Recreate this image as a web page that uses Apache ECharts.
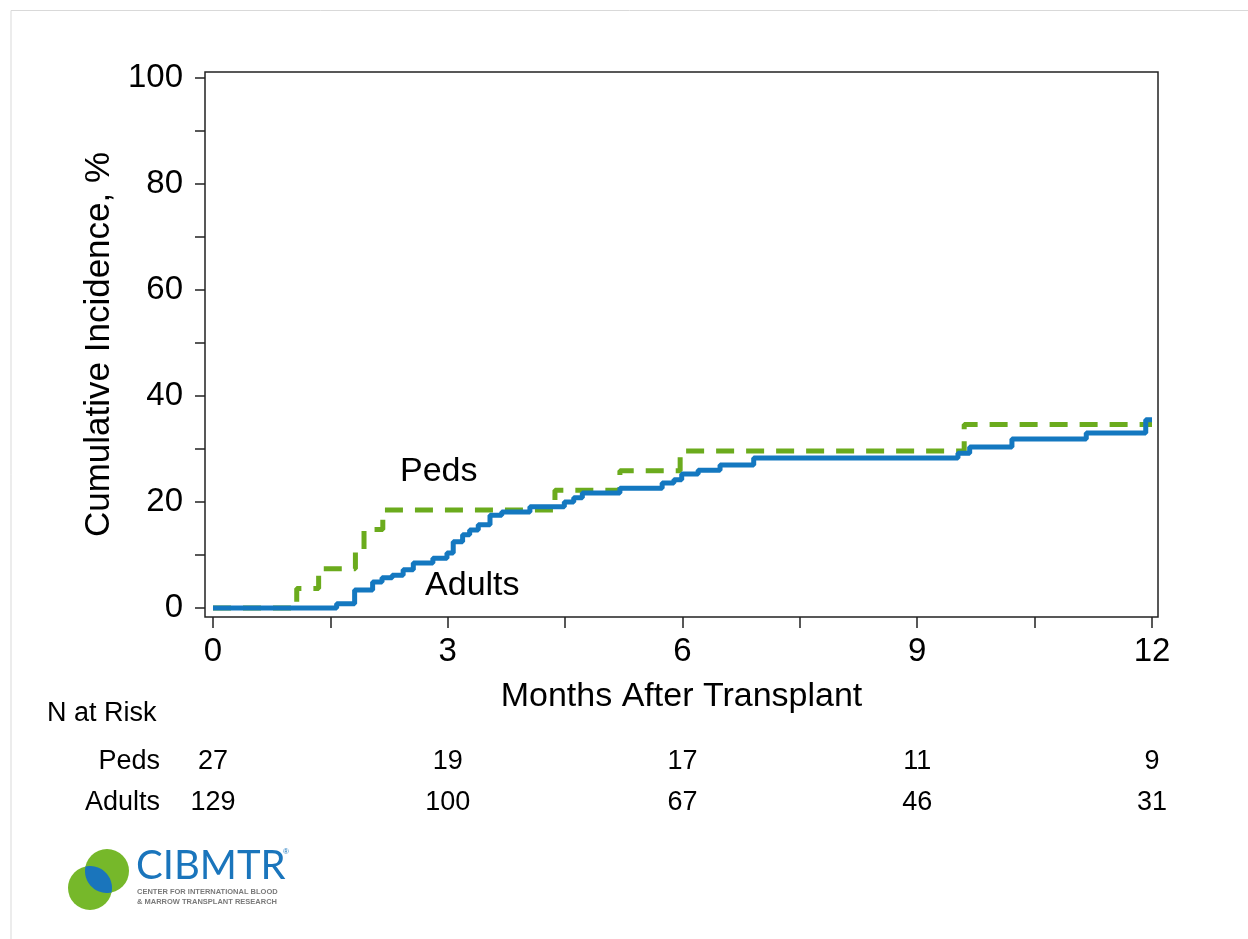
<!DOCTYPE html>
<html><head><meta charset="utf-8">
<script src="https://cdn.jsdelivr.net/npm/echarts@6/dist/echarts.min.js"></script>
<style>html,body{margin:0;padding:0;background:#fff;} #c{width:1248px;height:939px;}</style>
</head><body><div id="c"></div>
<script>
// ---- data ----
const xTicks = [0, 1.5, 3, 4.5, 6, 7.5, 9, 10.5, 12];
const xTickLabels = [0, 3, 6, 9, 12];
const yTicks = [0, 10, 20, 30, 40, 50, 60, 70, 80, 90, 100];
const yTickLabels = [0, 20, 40, 60, 80, 100];
const pedsCurve = [[0,0],[1.07,3.7],[1.35,7.4],[1.82,11.1],[1.93,14.8],[2.17,18.5],[4.37,22.2],[5.2,25.9],[5.97,29.6],[9.6,34.6],[12.0,34.6]];
const adultsCurve = [[0,0],[1.58,0.8],[1.81,3.4],[2.04,4.9],[2.16,5.7],[2.29,6.2],[2.43,7.2],[2.56,8.5],[2.81,9.4],[2.99,10.4],[3.07,12.5],[3.19,13.8],[3.28,14.7],[3.39,15.7],[3.54,17.5],[3.69,18.1],[4.05,19.1],[4.49,20.0],[4.61,20.8],[4.72,21.7],[5.2,22.6],[5.74,23.6],[5.89,24.2],[5.99,25.3],[6.2,26.0],[6.48,27.0],[6.91,28.3],[9.52,29.2],[9.67,30.4],[10.21,31.9],[11.16,33.0],[11.92,35.5],[12.0,35.5]];
const riskTimes = [0, 3, 6, 9, 12];
const riskRows = ['Peds', 'Adults'];
const pedsAtRisk = [27, 19, 17, 11, 9];
const adultsAtRisk = [129, 100, 67, 46, 31];

// ---- fonts ----
function fontAvailable(name){
  const ctx = document.createElement('canvas').getContext('2d');
  const s = 'Adults 129 Risk abcdefghij';
  ctx.font = '40px monospace'; const a = ctx.measureText(s).width;
  ctx.font = '40px serif'; const b = ctx.measureText(s).width;
  ctx.font = '40px "' + name + '", monospace'; const c = ctx.measureText(s).width;
  ctx.font = '40px "' + name + '", serif'; const d = ctx.measureText(s).width;
  return a !== c || b !== d;
}
const MAIN = "'Liberation Sans', Arial, sans-serif";
let NARROW = MAIN, narrowSize = 27;
if (fontAvailable('Liberation Sans Narrow')) { NARROW = "'Liberation Sans Narrow', sans-serif"; narrowSize = 31; }
else if (fontAvailable('Arial Narrow')) { NARROW = "'Arial Narrow', sans-serif"; narrowSize = 31; }

const TXT = '#000';
const BLUE = '#1478c0';
const GREEN = '#6bab1d';

const riskData = [];
riskTimes.forEach((t, i) => { riskData.push([t, 'Peds', pedsAtRisk[i]]); });
riskTimes.forEach((t, i) => { riskData.push([t, 'Adults', adultsAtRisk[i]]); });

// logo lens (intersection of the two logo circles) as polygon
function lensPoints(c1, c2, r){
  const pts = [];
  const dx = c2[0]-c1[0], dy = c2[1]-c1[1];
  const d = Math.hypot(dx, dy);
  const half = Math.acos((d/2)/r);
  const a1 = Math.atan2(dy, dx), a2 = Math.atan2(-dy, -dx);
  const N = 24;
  for (let i = 0; i <= N; i++) { const a = a1 - half + 2*half*i/N; pts.push([c1[0]+r*Math.cos(a), c1[1]+r*Math.sin(a)]); }
  for (let i = 0; i <= N; i++) { const a = a2 - half + 2*half*i/N; pts.push([c2[0]+r*Math.cos(a), c2[1]+r*Math.sin(a)]); }
  return pts;
}

const chart = echarts.init(document.getElementById('c'), null, {renderer: 'canvas'});
const option = {
  animation: false,
  backgroundColor: '#fff',
  textStyle: {fontFamily: MAIN},
  title: {
    text: 'N at Risk', left: 47, top: 700, padding: 0,
    textStyle: {fontFamily: NARROW, fontSize: narrowSize, fontWeight: 'normal', color: TXT}
  },
  grid: [
    {left: 205, top: 72, width: 953, height: 545, show: true, borderColor: '#222', borderWidth: 1.5, backgroundColor: 'transparent', containLabel: false},
    {left: 213, top: 741, width: 939, height: 82, containLabel: false}
  ],
  xAxis: [
    {
      type: 'value', gridIndex: 0, min: -0.1022, max: 12.0767, position: 'bottom',
      axisLine: {show: false, onZero: false},
      axisTick: {show: true, inside: false, length: 11, customValues: xTicks, lineStyle: {color: '#222', width: 1.5}},
      splitLine: {show: false},
      axisLabel: {
        show: true, margin: 18, fontSize: 33, color: TXT, fontFamily: MAIN,
        customValues: xTickLabels, formatter: v => String(Math.round(v))
      },
      name: 'Months After Transplant', nameLocation: 'middle', nameGap: 63,
      nameTextStyle: {fontSize: 34, color: TXT, fontFamily: MAIN}
    },
    {type: 'value', gridIndex: 1, show: false, min: 0, max: 12}
  ],
  yAxis: [
    {
      type: 'value', gridIndex: 0, min: -1.698, max: 101.132, position: 'left',
      axisLine: {show: false, onZero: false},
      axisTick: {show: true, inside: false, length: 10, customValues: yTicks, lineStyle: {color: '#222', width: 1.5}},
      splitLine: {show: false},
      axisLabel: {
        show: true, margin: 22, fontSize: 33, color: TXT, fontFamily: MAIN,
        customValues: yTickLabels, formatter: v => String(Math.round(v))
      },
      name: 'Cumulative Incidence, %', nameLocation: 'middle', nameGap: 86,
      nameTextStyle: {fontSize: 35, color: TXT, fontFamily: MAIN}
    },
    {
      type: 'category', gridIndex: 1, data: riskRows, inverse: true,
      axisLine: {show: false}, axisTick: {show: false}, splitLine: {show: false},
      axisLabel: {show: true, margin: 53, fontSize: narrowSize, color: TXT, fontFamily: NARROW, align: 'right'}
    }
  ],
  series: [
    {
      name: 'Peds', type: 'line', xAxisIndex: 0, yAxisIndex: 0, data: pedsCurve,
      step: 'end', symbol: 'none', showSymbol: false, clip: false, z: 3,
      lineStyle: {color: GREEN, width: 5, type: [18, 12], cap: 'butt'}
    },
    {
      name: 'Adults', type: 'line', xAxisIndex: 0, yAxisIndex: 0, data: adultsCurve,
      step: 'end', symbol: 'none', showSymbol: false, clip: false, z: 4,
      lineStyle: {color: BLUE, width: 5}
    },
    {
      name: 'annotations', type: 'scatter', xAxisIndex: 0, yAxisIndex: 0, symbolSize: 0, silent: true, z: 5,
      itemStyle: {opacity: 1},
      data: [{name: 'Peds', value: [2.39, 25.7]}, {name: 'Adults', value: [2.71, 4.3]}],
      label: {show: true, position: 'right', distance: 0, formatter: p => p.name, fontSize: 34, color: TXT, opacity: 1, fontFamily: MAIN}
    },
    {
      name: 'risk', type: 'scatter', xAxisIndex: 1, yAxisIndex: 1, symbolSize: 0, silent: true,
      itemStyle: {opacity: 1},
      data: riskData,
      label: {show: true, position: 'inside', formatter: p => String(p.value[2]), fontSize: narrowSize, color: TXT, opacity: 1, fontFamily: NARROW}
    }
  ],
  graphic: [
    {type: 'polyline', silent: true, shape: {points: [[11, 939], [11, 10.5], [1248, 10.5]]}, style: {stroke: '#d9d9d9', lineWidth: 1, fill: null}},
    {type: 'circle', silent: true, shape: {cx: 90, cy: 888, r: 22}, style: {fill: '#76b82a'}},
    {type: 'circle', silent: true, shape: {cx: 107, cy: 871, r: 22}, style: {fill: '#76b82a'}},
    {type: 'polygon', silent: true, shape: {points: lensPoints([90, 888], [107, 871], 22)}, style: {fill: '#1a75bc'}},
    {type: 'text', silent: true, left: 136, top: 846, style: {text: 'CIBMTR', fontSize: 40, fontFamily: "Lato, 'Open Sans', sans-serif", fontWeight: 'normal', fill: '#1a75bc'}},
    {type: 'text', silent: true, left: 283, top: 848, style: {text: '®', fontSize: 8, fontFamily: MAIN, fill: '#1a75bc'}},
    {type: 'text', silent: true, left: 137, top: 888, style: {text: 'CENTER FOR INTERNATIONAL BLOOD', fontSize: 7.5, fontFamily: MAIN, fontWeight: 'bold', fill: '#7a7a7a'}},
    {type: 'text', silent: true, left: 137, top: 898, style: {text: '& MARROW TRANSPLANT RESEARCH', fontSize: 7.5, fontFamily: MAIN, fontWeight: 'bold', fill: '#7a7a7a'}}
  ]
};
chart.setOption(option);
</script>
</body></html>
